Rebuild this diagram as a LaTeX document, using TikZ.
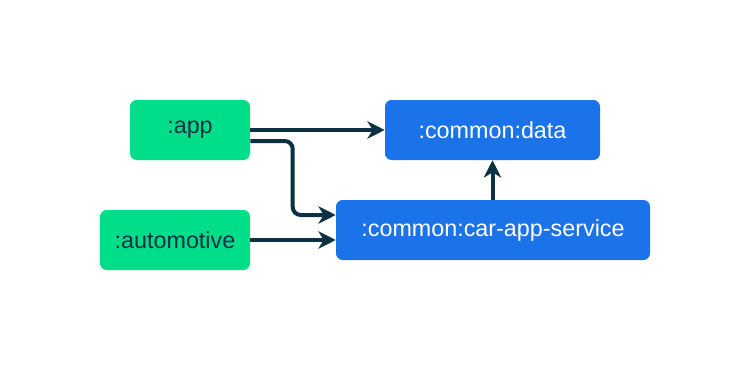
\documentclass[tikz,border=0pt]{standalone}
\usepackage{fontspec}
\setmainfont{Liberation Sans}
\usepackage{xcolor}
\usetikzlibrary{arrows.meta,calc}
\definecolor{modgreen}{HTML}{00DE8A}
\definecolor{modblue}{HTML}{1A73E8}
\definecolor{darkink}{HTML}{0B3142}
\tikzset{
  module/.style={rounded corners=5pt,minimum height=45pt,inner sep=0pt,
    font=\fontsize{17.5}{21}\selectfont},
  appmod/.style={module,fill=modgreen,text=darkink},
  libmod/.style={module,fill=modblue,text=white},
  dep/.style={draw=darkink,line width=3pt,-{Stealth[length=13pt,width=13pt,inset=4pt]}}
}

\begin{document}
\begin{tikzpicture}[x=0.75pt,y=-0.75pt]
  \useasboundingbox (0,0) rectangle (751,371);
  \node[appmod,minimum width=90pt] (app) at (190,130) {:app};
  \node[appmod,minimum width=112.5pt] (auto) at (175,240) {:automotive};
  \node[libmod,minimum width=161.25pt] (data) at (492.5,130) {:common:data};
  \node[libmod,minimum width=235.5pt] (service) at (493,230) {:common:car-app-service};
  \draw[dep] (app.east) -- (data.west);
  \draw[dep,rounded corners=6pt] ($(app.east)+(0,11)$) -| ($(service.west)+(-43,-15)$) -- ($(service.west)+(0,-15)$);
  \draw[dep] (auto.east) -- (auto.east -| service.west);
  \draw[dep] (service.north -| data.south) -- (data.south);
\end{tikzpicture}
\end{document}
